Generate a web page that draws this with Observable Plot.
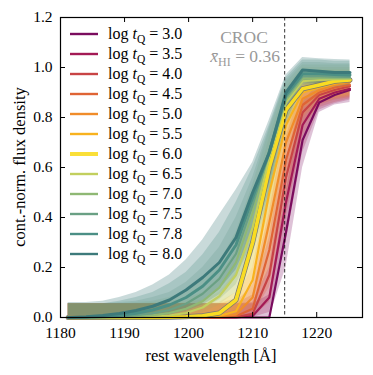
<!DOCTYPE html>
<html>
<head>
<meta charset="utf-8">
<script src="https://cdn.jsdelivr.net/npm/d3@7"></script>
<script src="https://cdn.jsdelivr.net/npm/@observablehq/plot@0.6"></script>
<style>
  html, body { margin: 0; padding: 0; background: white; }
  #chart { width: 373px; height: 375px; }
</style>
</head>
<body>
<div id="chart"></div>
<script>
const wavelength = [1181.2, 1184.0, 1186.6, 1189.2, 1191.8, 1194.4, 1197.0, 1199.6, 1202.2, 1204.8, 1207.4, 1210.0, 1212.6, 1215.2, 1217.8, 1220.4, 1222.8, 1225.2];
const logtQ = ["3.0", "3.5", "4.0", "4.5", "5.0", "5.5", "6.0", "6.5", "7.0", "7.5", "7.8", "8.0"];
const colors = ["#7a0c5e", "#a31a55", "#c84445", "#df6435", "#f08c2a", "#f8b21e", "#f9dc22", "#c2cf5e", "#8fb874", "#6aa084", "#4b8f85", "#3d7a7b"];
const lineWidths = [2.2, 2.2, 2.2, 2.2, 2.2, 2.2, 3.6, 2.2, 2.2, 2.2, 3, 3];
const bandOpacity = [0.25, 0.25, 0.25, 0.25, 0.2, 0.18, 0.15, 0.15, 0.15, 0.2, 0.25, 0.28];

const median = [
  [0, 0, 0, 0, 0, 0, 0, 0, 0, 0, 0, 0, 0, 0.34, 0.71, 0.86, 0.89, 0.91],
  [0, 0, 0, 0, 0, 0, 0, 0, 0, 0, 0, 0.006, 0.08, 0.46, 0.77, 0.875, 0.9, 0.915],
  [0, 0, 0, 0, 0, 0, 0, 0, 0, 0, 0.002, 0.015, 0.17, 0.56, 0.82, 0.89, 0.91, 0.925],
  [0, 0, 0, 0, 0, 0, 0, 0, 0, 0, 0.005, 0.035, 0.27, 0.63, 0.85, 0.9, 0.92, 0.93],
  [0, 0, 0, 0, 0, 0, 0, 0, 0, 0.003, 0.012, 0.08, 0.38, 0.7, 0.875, 0.91, 0.93, 0.94],
  [0, 0, 0, 0, 0, 0, 0, 0, 0.002, 0.006, 0.025, 0.15, 0.5, 0.77, 0.9, 0.92, 0.935, 0.945],
  [0, 0, 0, 0, 0, 0, 0.001, 0.003, 0.007, 0.018, 0.07, 0.3, 0.6, 0.83, 0.915, 0.93, 0.945, 0.95],
  [0, 0, 0, 0, 0.001, 0.003, 0.008, 0.018, 0.04, 0.085, 0.17, 0.36, 0.64, 0.86, 0.945, 0.95, 0.952, 0.955],
  [0, 0, 0, 0.002, 0.004, 0.009, 0.018, 0.035, 0.065, 0.12, 0.22, 0.42, 0.66, 0.87, 0.955, 0.957, 0.957, 0.957],
  [0, 0, 0.001, 0.004, 0.009, 0.017, 0.03, 0.055, 0.095, 0.155, 0.255, 0.45, 0.67, 0.88, 0.965, 0.965, 0.963, 0.962],
  [0, 0.001, 0.004, 0.009, 0.017, 0.03, 0.05, 0.08, 0.125, 0.19, 0.29, 0.48, 0.66, 0.89, 0.975, 0.975, 0.972, 0.97],
  [0, 0.003, 0.008, 0.016, 0.028, 0.045, 0.07, 0.11, 0.16, 0.22, 0.32, 0.5, 0.66, 0.9, 0.99, 0.985, 0.98, 0.98]
];

const upper = [
  [0.055, 0.055, 0.055, 0.055, 0.055, 0.055, 0.055, 0.055, 0.055, 0.055, 0.055, 0.055, 0.09, 0.5, 0.86, 0.94, 0.95, 0.96],
  [0.055, 0.055, 0.055, 0.055, 0.055, 0.055, 0.055, 0.055, 0.055, 0.055, 0.055, 0.06, 0.2, 0.62, 0.9, 0.95, 0.96, 0.965],
  [0.055, 0.055, 0.055, 0.055, 0.055, 0.055, 0.055, 0.055, 0.055, 0.055, 0.055, 0.09, 0.32, 0.72, 0.93, 0.96, 0.965, 0.97],
  [0.055, 0.055, 0.055, 0.055, 0.055, 0.055, 0.055, 0.055, 0.055, 0.055, 0.06, 0.13, 0.42, 0.78, 0.95, 0.97, 0.97, 0.975],
  [0.055, 0.055, 0.055, 0.055, 0.055, 0.055, 0.055, 0.055, 0.055, 0.055, 0.075, 0.2, 0.52, 0.83, 0.96, 0.975, 0.975, 0.98],
  [0.055, 0.055, 0.055, 0.055, 0.055, 0.055, 0.055, 0.055, 0.055, 0.06, 0.1, 0.3, 0.62, 0.87, 0.97, 0.98, 0.98, 0.98],
  [0.055, 0.055, 0.055, 0.055, 0.055, 0.055, 0.055, 0.06, 0.07, 0.1, 0.18, 0.4, 0.68, 0.9, 0.98, 0.99, 0.99, 0.99],
  [0.055, 0.055, 0.055, 0.055, 0.055, 0.06, 0.065, 0.075, 0.1, 0.16, 0.27, 0.47, 0.72, 0.92, 1.0, 1.0, 1.0, 1.0],
  [0.055, 0.055, 0.055, 0.055, 0.06, 0.065, 0.08, 0.1, 0.15, 0.22, 0.34, 0.53, 0.75, 0.94, 1.01, 1.01, 1.01, 1.01],
  [0.055, 0.055, 0.055, 0.06, 0.065, 0.08, 0.1, 0.14, 0.2, 0.28, 0.4, 0.56, 0.76, 0.95, 1.02, 1.02, 1.015, 1.015],
  [0.055, 0.055, 0.055, 0.065, 0.08, 0.1, 0.135, 0.18, 0.25, 0.34, 0.46, 0.6, 0.77, 0.96, 1.03, 1.03, 1.025, 1.025],
  [0.06, 0.06, 0.065, 0.08, 0.1, 0.13, 0.17, 0.23, 0.31, 0.41, 0.51, 0.62, 0.79, 0.97, 1.04, 1.035, 1.032, 1.03]
];

const lower = [
  [0, 0, 0, 0, 0, 0, 0, 0, 0, 0, 0, 0, 0, 0.2, 0.6, 0.82, 0.85, 0.86],
  [0, 0, 0, 0, 0, 0, 0, 0, 0, 0, 0, 0, 0.02, 0.3, 0.66, 0.83, 0.855, 0.87],
  [0, 0, 0, 0, 0, 0, 0, 0, 0, 0, 0, 0, 0.06, 0.4, 0.72, 0.84, 0.86, 0.875],
  [0, 0, 0, 0, 0, 0, 0, 0, 0, 0, 0, 0.01, 0.12, 0.48, 0.76, 0.85, 0.87, 0.88],
  [0, 0, 0, 0, 0, 0, 0, 0, 0, 0, 0.002, 0.03, 0.2, 0.56, 0.8, 0.86, 0.875, 0.885],
  [0, 0, 0, 0, 0, 0, 0, 0, 0, 0, 0.008, 0.07, 0.3, 0.65, 0.84, 0.87, 0.88, 0.89],
  [0, 0, 0, 0, 0, 0, 0, 0, 0.002, 0.008, 0.03, 0.15, 0.38, 0.7, 0.87, 0.89, 0.9, 0.9],
  [0, 0, 0, 0, 0, 0, 0, 0.003, 0.01, 0.03, 0.07, 0.2, 0.42, 0.74, 0.9, 0.905, 0.91, 0.91],
  [0, 0, 0, 0, 0, 0, 0, 0.008, 0.02, 0.05, 0.1, 0.25, 0.46, 0.76, 0.91, 0.91, 0.915, 0.915],
  [0, 0, 0, 0, 0, 0, 0.005, 0.015, 0.035, 0.07, 0.13, 0.27, 0.48, 0.77, 0.92, 0.92, 0.92, 0.92],
  [0, 0, 0, 0, 0, 0.003, 0.01, 0.025, 0.05, 0.09, 0.16, 0.3, 0.5, 0.78, 0.93, 0.93, 0.925, 0.925],
  [0, 0, 0, 0, 0.002, 0.006, 0.015, 0.035, 0.065, 0.11, 0.19, 0.34, 0.53, 0.8, 0.94, 0.935, 0.93, 0.93]
];

const xTicks = [1180, 1190, 1200, 1210, 1220];
const yTicks = [0, 0.2, 0.4, 0.6, 0.8, 1.0, 1.2];
const xHI = "0.36";
const zReionLine = [1215];

const FONT = "'Liberation Serif', 'Times New Roman', serif";
const W = 373, H = 375;
const mL = 60, mR = 11, mT = 17, mB = 58;
const innerW = W - mL - mR, innerH = H - mT - mB;

const rows = [];
logtQ.forEach((s, i) => {
  wavelength.forEach((w, j) => {
    rows.push({series: s, w, mid: median[i][j], lo: lower[i][j], hi: upper[i][j]});
  });
});

const marks = [];
// bands
logtQ.forEach((s, i) => {
  marks.push(Plot.areaY(rows.filter(d => d.series === s), {
    x: "w", y1: "lo", y2: "hi", fill: colors[i], fillOpacity: bandOpacity[i]
  }));
});
// lines
logtQ.forEach((s, i) => {
  const data = rows.filter(d => d.series === s);
  if (s === "6.0") {
    marks.push(Plot.lineY(data, {x: "w", y: "mid", stroke: "#777", strokeWidth: lineWidths[i] + 1.4, strokeLinejoin: "round"}));
  }
  marks.push(Plot.lineY(data, {x: "w", y: "mid", stroke: colors[i], strokeWidth: lineWidths[i], strokeLinejoin: "round"}));
});

marks.push(
  Plot.ruleX(zReionLine, {x: d => d, stroke: "black", strokeWidth: 0.8, strokeDasharray: "3.5,2.5"}),
  Plot.tickX(xTicks, {x: d => d, stroke: "black", strokeWidth: 1, insetTop: innerH - 5}),
  Plot.tickX(xTicks, {x: d => d, stroke: "black", strokeWidth: 1, insetBottom: innerH - 5}),
  Plot.tickY(yTicks, {y: d => d, stroke: "black", strokeWidth: 1, insetRight: innerW - 5}),
  Plot.tickY(yTicks, {y: d => d, stroke: "black", strokeWidth: 1, insetLeft: innerW - 5}),
  Plot.axisX({ticks: xTicks, tickSize: 0, tickPadding: 9, fontSize: 15.5, tickFormat: d => String(d),
    label: null}),
  Plot.axisY({ticks: yTicks, tickSize: 0, tickPadding: 8, fontSize: 15.5, tickFormat: d3.format(".1f"),
    label: null}),
  Plot.frame({stroke: "black", strokeWidth: 1.2})
);

const chart = Plot.plot({
  width: W, height: H,
  marginLeft: mL, marginRight: mR, marginTop: mT, marginBottom: mB,
  x: {domain: [1180, 1227.15]},
  y: {domain: [0, 1.2]},
  style: {fontFamily: FONT, fontSize: "15.5px", background: "white", color: "black"},
  marks
});

document.getElementById("chart").appendChild(chart);

const svg = d3.select(chart);
// axis titles
const titles = svg.append("g").attr("font-family", FONT).attr("font-size", 16.5).attr("fill", "black").attr("text-anchor", "middle");
titles.append("text").attr("x", mL + innerW / 2).attr("y", 361).text("rest wavelength [Å]");
titles.append("text").attr("transform", `translate(25, ${mT + innerH / 2}) rotate(-90)`).text("cont.-norm. flux density");

// legend
const leg = svg.append("g").attr("font-family", FONT).attr("font-size", 16).attr("fill", "black").attr("text-anchor", "start");
logtQ.forEach((s, i) => {
  const y = 34 + 20 * i;
  if (s === "6.0") {
    leg.append("line").attr("x1", 70).attr("x2", 98).attr("y1", y).attr("y2", y)
      .attr("stroke", "#f9dc22").attr("stroke-width", 4).attr("stroke-opacity", 0.9);
  } else {
    leg.append("line").attr("x1", 70).attr("x2", 98).attr("y1", y).attr("y2", y)
      .attr("stroke", colors[i]).attr("stroke-width", 2.4);
  }
  const t = leg.append("text").attr("x", 108).attr("y", y + 5).attr("text-anchor", "start");
  t.append("tspan").text("log ");
  t.append("tspan").attr("font-style", "italic").text("t");
  t.append("tspan").attr("font-size", 11.5).attr("dy", 3.5).text("Q");
  t.append("tspan").attr("dy", -3.5).text(" = " + s);
});

// annotation
const ann = svg.append("g").attr("font-family", FONT).attr("fill", "#999");
ann.append("text").attr("x", 244).attr("y", 43).attr("text-anchor", "middle").attr("font-size", 17.5).text("CROC");
const a2 = ann.append("text").attr("x", 280).attr("y", 62).attr("text-anchor", "end").attr("font-size", 17.5);
a2.append("tspan").attr("font-style", "italic").text("x\u0304");
a2.append("tspan").attr("font-size", 12).attr("dy", 3.5).text("HI");
a2.append("tspan").attr("dy", -3.5).text(" = " + xHI);
</script>
</body>
</html>
